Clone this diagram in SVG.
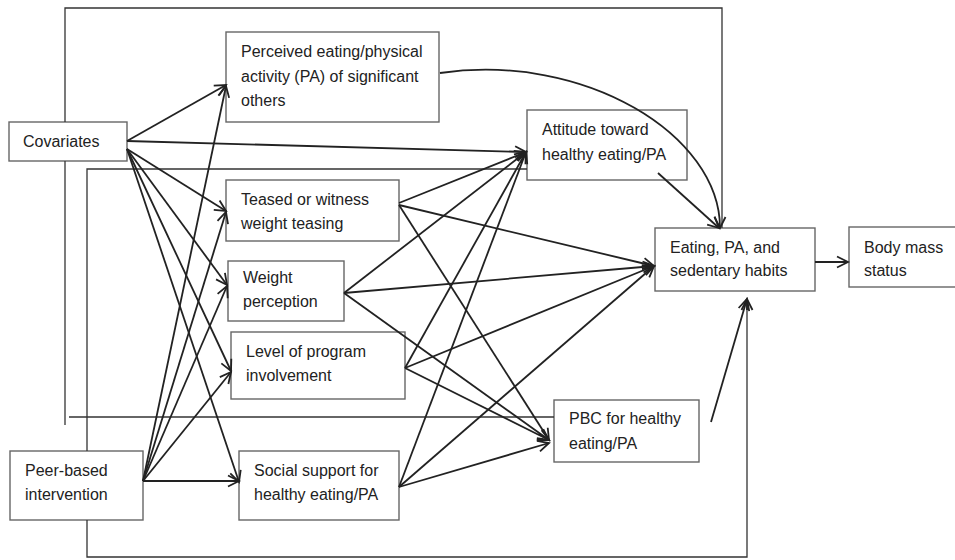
<svg xmlns="http://www.w3.org/2000/svg" width="955" height="560" viewBox="0 0 955 560">
<defs>
<marker id="ah" markerUnits="userSpaceOnUse" markerWidth="14" markerHeight="14" refX="12" refY="6" orient="auto" overflow="visible">
<path d="M1,0.5 L12,6 L1,11.5" fill="none" stroke="#222" stroke-width="1.8"/>
</marker>
</defs>
<style>
.box{fill:#fff;stroke:#666;stroke-width:1.4}
.t{font-family:"Liberation Sans",Arial,sans-serif;font-size:16px;fill:#222}
.c{fill:none;stroke:#222;stroke-width:1.8}
.f{fill:none;stroke:#333;stroke-width:1.3}
.a{marker-end:url(#ah)}
</style>
<rect width="955" height="560" fill="#fff"/>
<g id="covariates">
<rect class="box" x="9" y="122" width="118" height="39"/>
<text class="t" x="23" y="147">Covariates</text>
</g>
<g id="perceived">
<rect class="box" x="226" y="32" width="213" height="90"/>
<text class="t" x="241" y="57">Perceived eating/physical</text>
<text class="t" x="241" y="82">activity (PA) of significant</text>
<text class="t" x="241" y="106">others</text>
</g>
<g id="attitude">
<rect class="box" x="527" y="110" width="160" height="70"/>
<text class="t" x="542" y="135">Attitude toward</text>
<text class="t" x="542" y="160">healthy eating/PA</text>
</g>
<g id="teased">
<rect class="box" x="226" y="180" width="173" height="61"/>
<text class="t" x="241" y="205">Teased or witness</text>
<text class="t" x="241" y="229">weight teasing</text>
</g>
<g id="weight">
<rect class="box" x="228" y="261" width="116" height="60"/>
<text class="t" x="243" y="283">Weight</text>
<text class="t" x="243" y="307">perception</text>
</g>
<g id="level">
<rect class="box" x="231" y="332" width="174" height="67"/>
<text class="t" x="246" y="357">Level of program</text>
<text class="t" x="246" y="381">involvement</text>
</g>
<g id="peer">
<rect class="box" x="10" y="451" width="133" height="69"/>
<text class="t" x="25" y="476">Peer-based</text>
<text class="t" x="25" y="500">intervention</text>
</g>
<g id="social">
<rect class="box" x="239" y="451" width="160" height="69"/>
<text class="t" x="254" y="476">Social support for</text>
<text class="t" x="254" y="500">healthy eating/PA</text>
</g>
<g id="pbc">
<rect class="box" x="554" y="400" width="145" height="62"/>
<text class="t" x="569" y="424">PBC for healthy</text>
<text class="t" x="569" y="449">eating/PA</text>
</g>
<g id="eating">
<rect class="box" x="655" y="228" width="160" height="63"/>
<text class="t" x="670" y="253">Eating, PA, and</text>
<text class="t" x="670" y="276">sedentary habits</text>
</g>
<g id="bodymass">
<rect class="box" x="849" y="227" width="120" height="60"/>
<text class="t" x="864" y="253">Body mass</text>
<text class="t" x="864" y="276">status</text>
</g>
<g id="connectors">
<polyline class="f" points="65,122 65,8 722,8 722,228"/>
<line class="f" x1="65" y1="161" x2="65" y2="425"/>
<line class="f" x1="69" y1="417" x2="554" y2="417"/>
<polyline class="f" points="527,169 87,169 87,451"/>
<polyline class="f" points="87,520 87,557 747,557 747,300"/>
<path class="c a" d="M747,310 L747,299"/>
<path class="c a" d="M440,73 C585,52 720,135 720,228"/>
<line class="c a" x1="658" y1="173" x2="719" y2="228"/>
<line class="c a" x1="127" y1="141" x2="226" y2="85"/>
<line class="c a" x1="127" y1="141" x2="526" y2="152"/>
<line class="c a" x1="127" y1="149" x2="226" y2="211"/>
<line class="c a" x1="127" y1="149" x2="227" y2="285"/>
<line class="c a" x1="127" y1="149" x2="231" y2="371"/>
<line class="c a" x1="127" y1="149" x2="239" y2="482"/>
<line class="c a" x1="143" y1="481" x2="226" y2="86"/>
<line class="c a" x1="143" y1="481" x2="226" y2="212"/>
<line class="c a" x1="143" y1="481" x2="227" y2="286"/>
<line class="c a" x1="143" y1="481" x2="231" y2="372"/>
<line class="c a" x1="143" y1="481" x2="239" y2="481"/>
<line class="c a" x1="399" y1="203" x2="526" y2="152"/>
<line class="c a" x1="399" y1="205" x2="654" y2="266"/>
<line class="c a" x1="399" y1="205" x2="549" y2="440"/>
<line class="c a" x1="344" y1="293" x2="526" y2="152"/>
<line class="c a" x1="344" y1="293" x2="654" y2="266"/>
<line class="c a" x1="344" y1="293" x2="549" y2="440"/>
<line class="c a" x1="405" y1="368" x2="526" y2="152"/>
<line class="c a" x1="405" y1="368" x2="654" y2="266"/>
<line class="c a" x1="405" y1="368" x2="549" y2="440"/>
<line class="c a" x1="399" y1="487" x2="526" y2="152"/>
<line class="c a" x1="399" y1="487" x2="654" y2="266"/>
<line class="c a" x1="399" y1="487" x2="549" y2="443"/>
<line class="c a" x1="711" y1="422" x2="747" y2="299"/>
<line class="c a" x1="815" y1="262" x2="848" y2="262"/>
</g>
</svg>
